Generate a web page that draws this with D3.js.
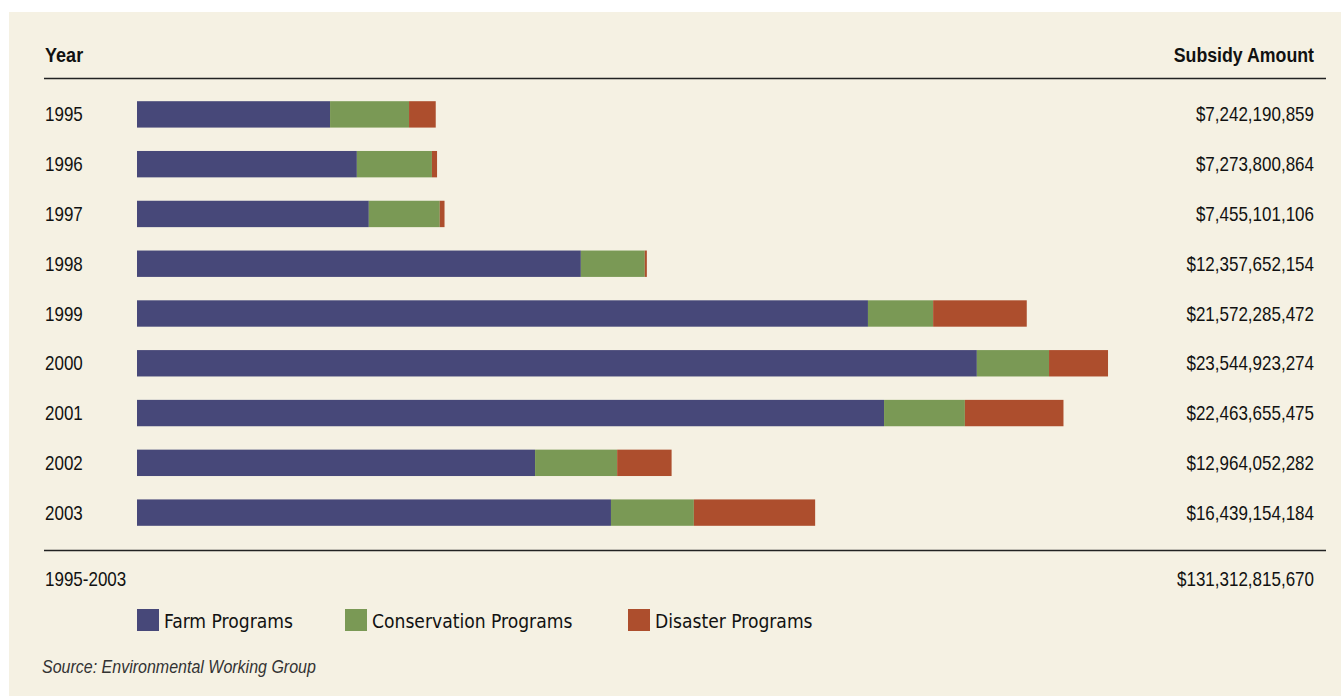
<!DOCTYPE html>
<html><head><meta charset="utf-8">
<script src="https://cdn.jsdelivr.net/npm/d3@7"></script>
<style>
html,body{margin:0;padding:0;background:#fff;}
svg{display:block;}
</style></head>
<body>
<script>
const years = ["1995","1996","1997","1998","1999","2000","2001","2002","2003"];
// values in billions of dollars
const farm = [4.68, 5.33, 5.62, 10.76, 17.72, 20.36, 18.11, 9.65, 11.49];
const conservation = [1.915, 1.82, 1.72, 1.55, 1.58, 1.75, 1.96, 1.99, 2.01];
const disaster = [0.647, 0.124, 0.115, 0.05, 2.27, 1.43, 2.39, 1.32, 2.94];
const totals = [7242190859, 7273800864, 7455101106, 12357652154, 21572285472, 23544923274, 22463655475, 12964052282, 16439154184];
const grandTotal = 131312815670;
const seriesNames = ["Farm Programs","Conservation Programs","Disaster Programs"];
const colors = ["#474879","#7a9955","#ad4e2d"];

const W = 1341, H = 696;
const font = "'Liberation Sans',Arial,sans-serif";
const svg = d3.select("body").append("svg").attr("width", W).attr("height", H);
svg.append("rect").attr("x",0).attr("y",0).attr("width",W).attr("height",H).attr("fill","#fff");
svg.append("rect").attr("x",9).attr("y",12).attr("width",W-9).attr("height",H-12).attr("fill","#f5f1e3");

function label(px, py, txt, opts) {
  opts = opts || {};
  const g = svg.append("g").attr("transform", `translate(${px},${py}) scale(${opts.sx||0.85},1)`);
  return g.append("text").attr("x",0).attr("y",0)
    .attr("text-anchor", opts.anchor || "start")
    .attr("font-family", opts.family || font)
    .attr("font-weight", opts.weight || "normal")
    .attr("font-style", opts.style || "normal")
    .attr("font-size", opts.size || 20)
    .attr("fill", opts.fill || "#111").text(txt);
}

const x = d3.scaleLinear().domain([0, 25]).range([137, 137 + 1031.25]);
const y = d3.scaleBand().domain(years).range([89.5, 537.5]).paddingInner(0.47).paddingOuter(0.235);

const rows = years.map((yr,i)=>({year:yr, vals:[farm[i], conservation[i], disaster[i]], total: totals[i]}));
const stacked = d3.stack().keys([0,1,2]).value((d,k)=>d.vals[k])(rows);

// headers
label(45, 62, "Year", {weight:"bold", size:21, sx:0.86});
label(1314, 62, "Subsidy Amount", {weight:"bold", size:21, anchor:"end", sx:0.845});
svg.append("line").attr("x1",44).attr("x2",1326).attr("y1",78.5).attr("y2",78.5).attr("stroke","#222").attr("stroke-width",1.3);
svg.append("line").attr("x1",44).attr("x2",1326).attr("y1",550.5).attr("y2",550.5).attr("stroke","#222").attr("stroke-width",1.3);

const g = svg.append("g");
stacked.forEach((layer,k)=>{
  g.selectAll(null).data(layer).enter().append("rect")
    .attr("x", d=>x(d[0])).attr("width", d=>Math.max(0, x(d[1])-x(d[0])))
    .attr("y", d=>y(d.data.year)).attr("height", y.bandwidth())
    .attr("fill", colors[k]);
});

const fmt = d3.format("$,");
rows.forEach(d=>{
  const cy = y(d.year)+y.bandwidth()/2+7;
  label(45, cy, d.year);
  label(1314, cy, fmt(d.total), {anchor:"end"});
});

label(45, 586, "1995-2003");
label(1314, 586, fmt(grandTotal), {anchor:"end"});

// legend
const legX = [137, 345, 628];
seriesNames.forEach((n,k)=>{
  svg.append("rect").attr("x",legX[k]).attr("y",609).attr("width",22).attr("height",22).attr("fill",colors[k]);
  label(legX[k]+27, 628, n, {family:"'DejaVu Sans Condensed','DejaVu Sans',sans-serif", size:20, sx:0.955});
});

label(42, 673, "Source: Environmental Working Group", {style:"italic", size:18, sx:0.89, fill:"#333"});
</script>
</body></html>
